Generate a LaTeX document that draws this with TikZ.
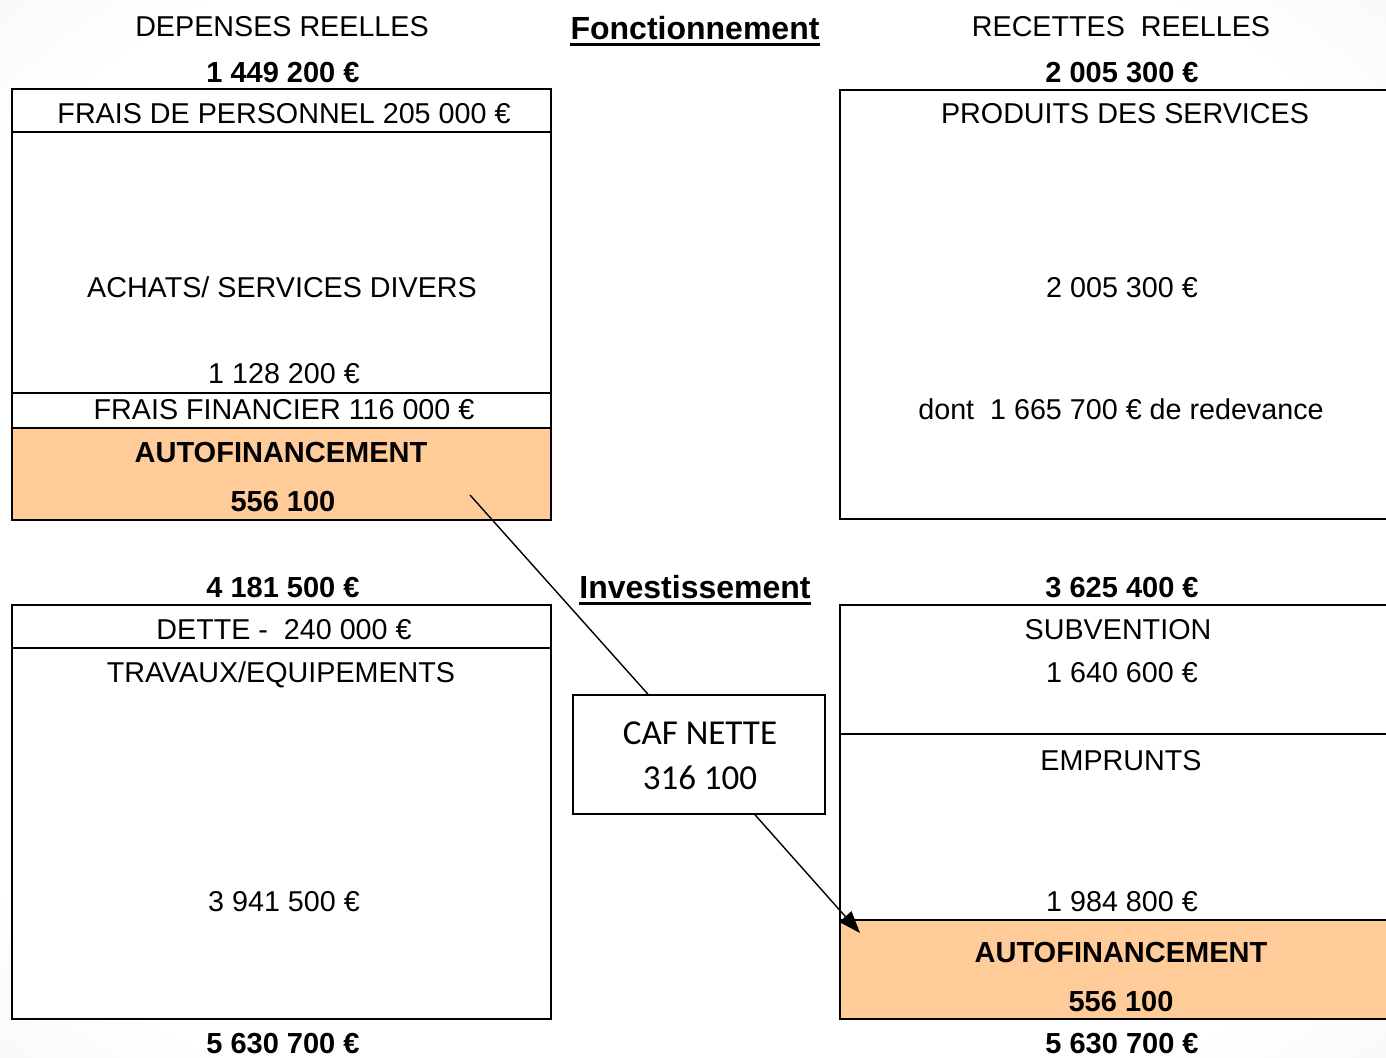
\documentclass[tikz,border=0pt]{standalone}
\usepackage{fontspec}
\setmainfont{Liberation Sans}
\newfontfamily\califont{Carlito}
\usetikzlibrary{arrows.meta,calc}
\definecolor{orangefill}{RGB}{255,204,153}
\pgfdeclareradialshading{bgshade}{\pgfpoint{0bp}{0bp}}{color(0bp)=(white); color(30bp)=(white); color(50bp)=(black!8); color(71bp)=(black!15)}
\begin{document}
\begin{tikzpicture}[x=1pt,y=-1pt,
 txt/.style={anchor=base,inner sep=0pt,font=\fontsize{28.7}{32}\selectfont},
 btxt/.style={anchor=base,inner sep=0pt,font=\fontsize{29}{32}\selectfont\bfseries},
 ttl/.style={anchor=base,inner sep=0pt,font=\fontsize{32}{36}\selectfont\bfseries},
 caftxt/.style={anchor=base,inner sep=0pt,font=\califont\fontsize{35}{40}\selectfont},
 cell/.style={draw=black,line width=2.8pt,anchor=north west,inner sep=0pt,outer sep=0pt},
 autof/.style={cell,fill=orangefill},
 link/.style={draw=black,line width=1.4pt}]
\useasboundingbox (0,0) rectangle (1386,1057);
\clip (0,0) rectangle (1386,1057);
\shade[shading=bgshade] (0,0) rectangle (1386,1057);

% ---- Fonctionnement: left boxes
\node[cell,fill=white,minimum width=539pt,minimum height=43pt] (fp) at (12,89) {};
\node[cell,fill=white,minimum width=539pt,minimum height=261pt] (ach) at (12,132) {};
\node[cell,fill=white,minimum width=539pt,minimum height=35pt] (ff) at (12,393) {};
\node[autof,minimum width=539pt,minimum height=92pt] (af1) at (12,428) {};
% right box
\node[cell,fill=white,minimum width=560pt,minimum height=429pt] (ps) at (840,90) {};

% ---- Investissement: left boxes
\node[cell,fill=white,minimum width=539pt,minimum height=43pt] (dette) at (12,605) {};
\node[cell,fill=white,minimum width=539pt,minimum height=371pt] (trav) at (12,648) {};
% right boxes
\node[cell,fill=white,minimum width=560pt,minimum height=129pt] (subv) at (840,605) {};
\node[cell,fill=white,minimum width=560pt,minimum height=186pt] (empr) at (840,734) {};
\node[autof,minimum width=560pt,minimum height=99pt] (af2) at (840,920) {};

% CAF box
\node[draw=black,fill=white,line width=1.6pt,anchor=north west,inner sep=0pt,minimum width=252pt,minimum height=119pt] (caf) at (572,694) {};

% ---- headings
\node[txt] (dep) at (282,37) {DEPENSES REELLES};
\node[btxt] (dept) at (283,82) {1 449 200 €};
\node[ttl] (fonc) at (695,40) {Fonctionnement};
\node[txt] (rec) at (1121,37) {RECETTES\ \ REELLES};
\node[btxt] (rect) at (1122,82) {2 005 300 €};

% ---- texts fonctionnement
\node[txt] (tfp) at (284,123) {FRAIS DE PERSONNEL 205 000 €};
\node[txt] (tach) at (282,297) {ACHATS/ SERVICES DIVERS};
\node[txt] (tachv) at (284,383) {1 128 200 €};
\node[txt] (tff) at (284,419) {FRAIS FINANCIER 116 000 €};
\node[btxt] (taf1) at (281,462) {AUTOFINANCEMENT};
\node[btxt] (taf1v) at (283,511) {556 100};
\node[txt] (tps) at (1125,123) {PRODUITS DES SERVICES};
\node[txt] (tpsv) at (1122,297) {2 005 300 €};
\node[txt] (tred) at (1121,419) {dont\ \ 1 665 700 € de redevance};

% ---- investissement headings
\node[btxt] (invl) at (283,597) {4 181 500 €};
\node[ttl] (inv) at (695,598) {Investissement};
\node[btxt] (invr) at (1122,597) {3 625 400 €};

% ---- texts investissement
\node[txt] (tdette) at (284,639) {DETTE -\ \ 240 000 €};
\node[txt] (ttrav) at (281,682) {TRAVAUX/EQUIPEMENTS};
\node[txt] (ttravv) at (284,911) {3 941 500 €};
\node[txt] (tsubv) at (1118,639) {SUBVENTION};
\node[txt] (tsubvv) at (1122,682) {1 640 600 €};
\node[txt] (tempr) at (1121,770) {EMPRUNTS};
\node[txt] (temprv) at (1122,911) {1 984 800 €};
\node[btxt] (taf2) at (1121,962) {AUTOFINANCEMENT};
\node[btxt] (taf2v) at (1121,1011) {556 100};
\node[btxt] (totl) at (283,1053) {5 630 700 €};
\node[btxt] (totr) at (1122,1053) {5 630 700 €};

% CAF texts
\node[caftxt] (caf1) at (700,744) {CAF NETTE};
\node[caftxt] (caf2) at (700,789) {316 100};

% underlines
\draw[line width=3pt] ($(fonc.base west)+(0,5)$) -- ($(fonc.base east)+(0,5)$);
\draw[line width=3pt] ($(inv.base west)+(0,5)$) -- ($(inv.base east)+(0,5)$);

% connectors
\coordinate (ls) at (470,495);
\draw[link] (ls) -- ($(caf.north)+(-51,0)$);
\coordinate (at) at (860,933);
\draw[link,-{Triangle[length=22pt,width=16pt]}] ($(caf.south)+(56,0)$) -- (at);
\end{tikzpicture}
\end{document}
